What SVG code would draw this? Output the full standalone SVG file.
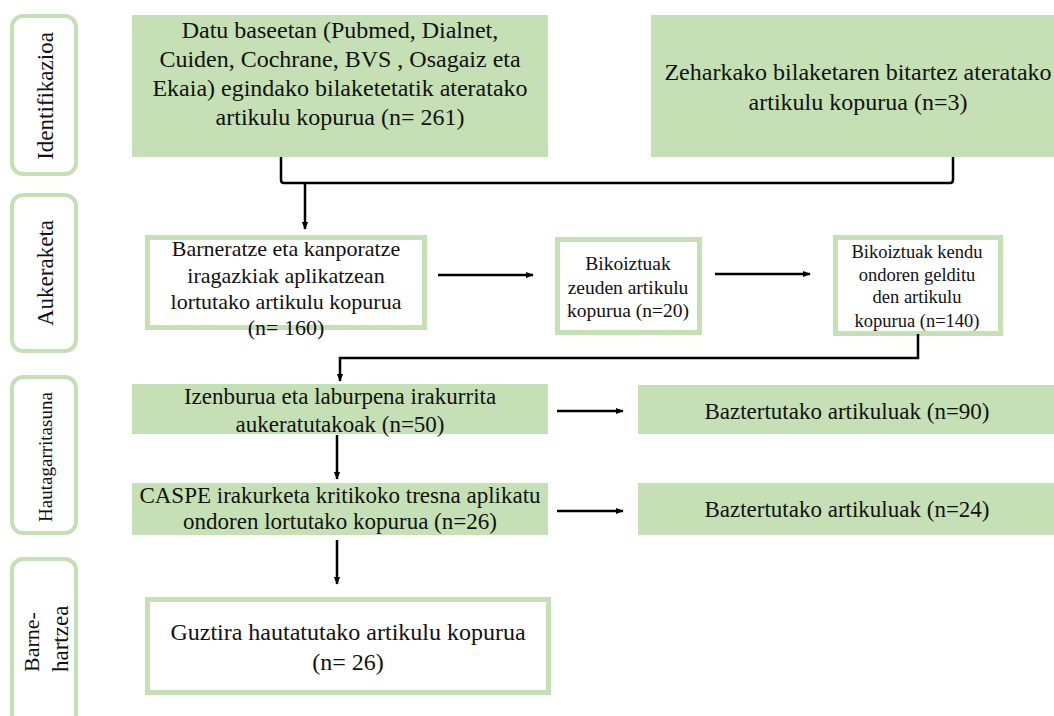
<svg xmlns="http://www.w3.org/2000/svg" width="1054" height="716" viewBox="0 0 1054 716">
<defs>
<marker id="ah" viewBox="0 0 10 10" refX="9" refY="5" markerWidth="3.2" markerHeight="3.2" orient="auto" markerUnits="strokeWidth">
<path d="M0,1 L10,5 L0,9 z" fill="#000"/>
</marker>
<style>
.t{fill:#111;text-anchor:middle}
.side{fill:#fff;stroke:#c5e0b4;stroke-width:4}
.fill{fill:#c5e0b4;stroke:none}
.out{fill:#fff;stroke:#c5e0b4;stroke-width:5}
.con{fill:none;stroke:#000;stroke-width:2.5}
</style>
</defs>
<rect width="1054" height="716" fill="#fff"/>
<g font-family="Liberation Serif, Times New Roman, serif">
<g id="lbl-identifikazioa">
<rect class="side" x="12" y="16" width="64" height="158" rx="11"/>
<text class="t" transform="translate(53,96) rotate(-90)" font-size="23">Identifikazioa</text>
</g>
<g id="lbl-aukeraketa">
<rect class="side" x="12" y="195" width="64" height="156" rx="11"/>
<text class="t" transform="translate(53,273) rotate(-90)" font-size="23">Aukeraketa</text>
</g>
<g id="lbl-hautagarritasuna">
<rect class="side" x="12" y="377" width="64" height="156" rx="11"/>
<text class="t" transform="translate(52,457) rotate(-90)" font-size="19">Hautagarritasuna</text>
</g>
<g id="lbl-barnehartzea">
<rect class="side" x="12" y="559" width="64" height="180" rx="11"/>
<text transform="translate(39,672) rotate(-90)" font-size="22" fill="#111">Barne-</text>
<text transform="translate(68,672) rotate(-90)" font-size="23" fill="#111">hartzea</text>
</g>
<g id="n-datu">
<rect class="fill" x="132" y="15" width="416" height="142"/>
<text class="t" font-size="24"><tspan x="340" y="38">Datu baseetan (Pubmed, Dialnet,</tspan><tspan x="340" y="67">Cuiden, Cochrane, BVS , Osagaiz eta</tspan><tspan x="340" y="96">Ekaia) egindako bilaketetatik ateratako</tspan><tspan x="340" y="125">artikulu kopurua (n= 261)</tspan></text>
</g>
<g id="n-zeharkako">
<rect class="fill" x="651" y="15" width="403" height="142"/>
<text class="t" font-size="24"><tspan x="858" y="80">Zeharkako bilaketaren bitartez ateratako</tspan><tspan x="858" y="110">artikulu kopurua (n=3)</tspan></text>
</g>
<g id="n-barneratze">
<rect class="out" x="147.5" y="237.5" width="277" height="90"/>
<text class="t" font-size="22"><tspan x="286" y="256">Barneratze eta kanporatze</tspan><tspan x="286" y="283">iragazkiak aplikatzean</tspan><tspan x="286" y="309">lortutako artikulu kopurua</tspan><tspan x="286" y="335">(n= 160)</tspan></text>
</g>
<g id="n-bikoiztuak">
<rect class="out" x="557.5" y="239.5" width="142" height="93"/>
<text class="t" font-size="19.5"><tspan x="628" y="270">Bikoiztuak</tspan><tspan x="628" y="294">zeuden artikulu</tspan><tspan x="628" y="317">kopurua (n=20)</tspan></text>
</g>
<g id="n-kendu">
<rect class="out" x="835.5" y="237.5" width="165" height="96"/>
<text class="t" font-size="18.5"><tspan x="917" y="258">Bikoiztuak kendu</tspan><tspan x="917" y="281">ondoren gelditu</tspan><tspan x="917" y="303">den artikulu</tspan><tspan x="917" y="327">kopurua (n=140)</tspan></text>
</g>
<g id="n-izenburua">
<rect class="fill" x="132" y="384" width="416" height="50"/>
<text class="t" font-size="23"><tspan x="340" y="404">Izenburua eta laburpena irakurrita</tspan><tspan x="340" y="432">aukeratutakoak (n=50)</tspan></text>
</g>
<g id="n-caspe">
<rect class="fill" x="132" y="483" width="416" height="52"/>
<text class="t" font-size="23"><tspan x="340" y="503">CASPE irakurketa kritikoko tresna aplikatu</tspan><tspan x="340" y="529">ondoren lortutako kopurua (n=26)</tspan></text>
</g>
<g id="n-guztira">
<rect class="out" x="147.5" y="599.5" width="401" height="93"/>
<text class="t" font-size="24"><tspan x="348" y="640">Guztira hautatutako artikulu kopurua</tspan><tspan x="348" y="670">(n= 26)</tspan></text>
</g>
<g id="n-bazt90">
<rect class="fill" x="638" y="385" width="416" height="49"/>
<text class="t" x="847" y="419" font-size="23">Baztertutako artikuluak (n=90)</text>
</g>
<g id="n-bazt24">
<rect class="fill" x="638" y="483" width="416" height="52"/>
<text class="t" x="847" y="517" font-size="23">Baztertutako artikuluak (n=24)</text>
</g>
</g>
<g id="connectors">
<path class="con" d="M281,157 V180 Q281,183 284,183 H950 Q953,183 953,180 V157"/>
<path class="con" d="M305,183 V229" marker-end="url(#ah)"/>
<path class="con" d="M438,275 H533" marker-end="url(#ah)"/>
<path class="con" d="M715,274 H810" marker-end="url(#ah)"/>
<path class="con" d="M918,334 V358 H340 V381" marker-end="url(#ah)"/>
<path class="con" d="M337,435 V479" marker-end="url(#ah)"/>
<path class="con" d="M337,540 V584" marker-end="url(#ah)"/>
<path class="con" d="M557,411 H623" marker-end="url(#ah)"/>
<path class="con" d="M557,511 H623" marker-end="url(#ah)"/>
</g>
</svg>
